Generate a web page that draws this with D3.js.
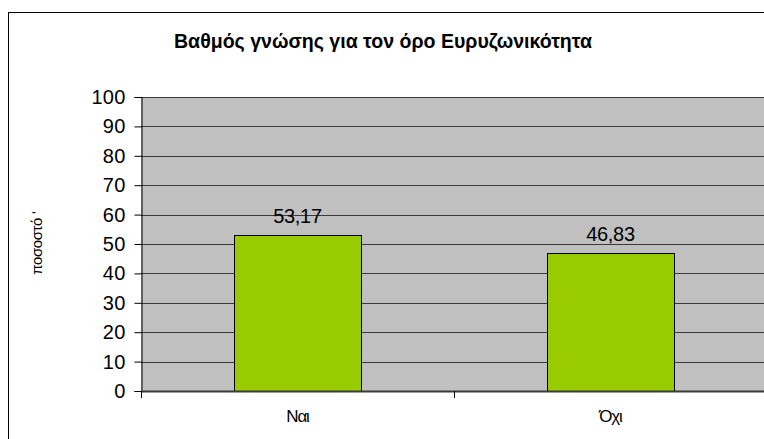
<!DOCTYPE html>
<html>
<head>
<meta charset="utf-8">
<script src="https://cdn.jsdelivr.net/npm/d3@7"></script>
<style>
  html, body { margin: 0; padding: 0; background: #fff; }
  svg { display: block; font-family: "Liberation Sans", Arial, sans-serif; }
</style>
</head>
<body>
<svg id="chart" width="764" height="439"></svg>
<script>
const title = "Βαθμός γνώσης για τον όρο Ευρυζωνικότητα";
const yAxisTitle = "ποσοστό ‘";
const categories = ["Ναι", "Όχι"];
const values = [53.17, 46.83];
const valueLabels = ["53,17", "46,83"];
const yTicks = [0, 10, 20, 30, 40, 50, 60, 70, 80, 90, 100];

const svg = d3.select("#chart");

// outer chart frame (extends beyond the visible window)
svg.append("rect")
  .attr("x", 8.5).attr("y", 12.5)
  .attr("width", 800).attr("height", 500)
  .attr("fill", "#fff").attr("stroke", "#000").attr("stroke-width", 1);

const plotLeft = 141, plotRight = 767, plotTop = 97, plotBottom = 391;

const x = d3.scaleBand().domain(categories).range([plotLeft, plotRight])
  .paddingInner(0.594).paddingOuter(0.297);
const y = d3.scaleLinear().domain([0, 100]).range([plotBottom, plotTop]);

// plot background
svg.append("rect")
  .attr("x", plotLeft).attr("y", plotTop)
  .attr("width", plotRight - plotLeft).attr("height", plotBottom - plotTop)
  .attr("fill", "#c0c0c0");

// gridlines
svg.append("g").selectAll("line").data(yTicks.filter(d => d > 0)).join("line")
  .attr("x1", plotLeft).attr("x2", plotRight)
  .attr("y1", d => Math.round(y(d)) + 0.5).attr("y2", d => Math.round(y(d)) + 0.5)
  .attr("stroke", "#3a3a3a").attr("stroke-width", 1);

// bars
svg.append("g").selectAll("rect").data(values).join("rect")
  .attr("x", (d, i) => Math.round(x(categories[i])) + 0.5)
  .attr("y", d => Math.round(y(d)) + 0.5)
  .attr("width", Math.round(x.bandwidth()))
  .attr("height", d => Math.round(y(0)) - Math.round(y(d)))
  .attr("fill", "#99cc00").attr("stroke", "#000").attr("stroke-width", 1);

// value labels
svg.append("g").selectAll("text").data(values).join("text")
  .attr("x", (d, i) => x(categories[i]) + x.bandwidth() / 2)
  .attr("y", d => y(d) - 12)
  .attr("text-anchor", "middle")
  .attr("font-size", 20).attr("letter-spacing", -0.3)
  .attr("fill", "#000")
  .text((d, i) => valueLabels[i]);

// y axis
const yAxis = d3.axisLeft(y).tickValues(yTicks).tickSize(7).tickPadding(9)
  .tickFormat(d3.format("d"));
const gy = svg.append("g").attr("transform", `translate(${plotLeft + 0.5},0)`).call(yAxis);
gy.select(".domain").attr("stroke", "#000");
gy.selectAll(".tick line").attr("stroke", "#000");
gy.selectAll(".tick text").attr("font-size", 20).attr("letter-spacing", 0.2)
  .attr("font-family", "Liberation Sans, Arial, sans-serif").attr("fill", "#000");

// x axis
const xBoundaries = [plotLeft, plotLeft + x.step(), plotRight];
svg.append("line")
  .attr("x1", plotLeft).attr("x2", plotRight)
  .attr("y1", plotBottom + 0.5).attr("y2", plotBottom + 0.5)
  .attr("stroke", "#3a3a3a").attr("stroke-width", 2);
svg.append("g").selectAll("line").data(xBoundaries).join("line")
  .attr("x1", d => Math.round(d) + 0.5).attr("x2", d => Math.round(d) + 0.5)
  .attr("y1", plotBottom).attr("y2", plotBottom + 7)
  .attr("stroke", "#000");
svg.append("g").selectAll("text").data(categories).join("text")
  .attr("x", d => x(d) + x.bandwidth() / 2)
  .attr("y", 422)
  .attr("text-anchor", "middle")
  .attr("font-size", 17).attr("letter-spacing", -1.2)
  .attr("fill", "#000")
  .text(d => d);

// y axis title
svg.append("text")
  .attr("transform", "translate(42,243) rotate(-90)")
  .attr("text-anchor", "middle")
  .attr("font-size", 15).attr("letter-spacing", -0.4)
  .attr("fill", "#000")
  .text(yAxisTitle);

// title
svg.append("text")
  .attr("x", 383).attr("y", 48)
  .attr("text-anchor", "middle")
  .attr("font-size", 20).attr("font-weight", "bold")
  .attr("textLength", 418).attr("lengthAdjust", "spacingAndGlyphs")
  .attr("fill", "#000")
  .text(title);
</script>
</body>
</html>
